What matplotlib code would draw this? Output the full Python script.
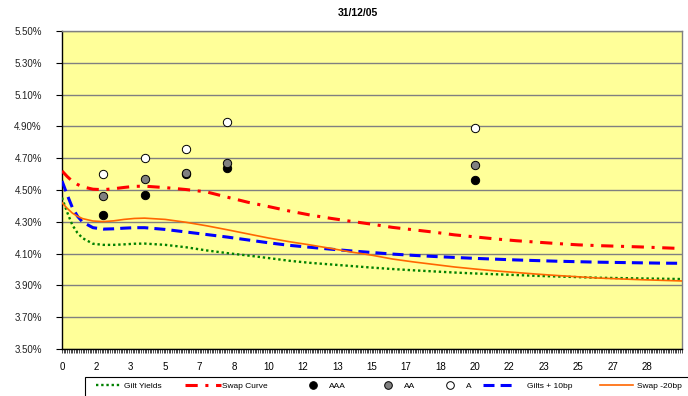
import numpy as np
import matplotlib.pyplot as plt
from matplotlib.lines import Line2D
from matplotlib.patches import Rectangle

plt.rcParams['font.family'] = ['Liberation Sans', 'DejaVu Sans']

# ----------------------------------------------------------------------------
# DATA (yields in %, maturities in years)
# ----------------------------------------------------------------------------
maturity_yrs = [0, 0.25, 0.5, 0.75, 1, 1.5, 2, 2.5, 3, 3.5, 4, 5, 6, 7, 8, 9, 10,
                11, 12, 13, 14, 15, 16, 17, 18, 19, 20, 21, 22, 23, 24, 25, 26,
                27, 28, 29, 30]

gilt_yields = [4.452, 4.36, 4.28, 4.23, 4.197, 4.162, 4.155, 4.155, 4.158, 4.162,
               4.163, 4.155, 4.14, 4.12, 4.103, 4.088, 4.072, 4.055, 4.042, 4.032,
               4.022, 4.012, 4.003, 3.995, 3.988, 3.981, 3.975, 3.970, 3.965, 3.960,
               3.956, 3.952, 3.948, 3.946, 3.944, 3.942, 3.940]

swap_curve = [4.62, 4.585, 4.555, 4.535, 4.52, 4.505, 4.502, 4.508, 4.516, 4.523,
              4.524, 4.515, 4.503, 4.488, 4.455, 4.423, 4.396, 4.368, 4.343, 4.322,
              4.303, 4.285, 4.265, 4.25, 4.235, 4.218, 4.205, 4.192, 4.181, 4.172,
              4.163, 4.155, 4.150, 4.146, 4.142, 4.137, 4.132]

gilts_plus_10 = [4.557, 4.47, 4.39, 4.335, 4.298, 4.263, 4.254, 4.256, 4.26, 4.263,
                 4.263, 4.252, 4.236, 4.22, 4.204, 4.186, 4.168, 4.152, 4.14, 4.128,
                 4.117, 4.107, 4.097, 4.089, 4.082, 4.076, 4.070, 4.065, 4.060, 4.056,
                 4.052, 4.049, 4.046, 4.044, 4.042, 4.040, 4.039]

swap_minus_20 = [4.42, 4.385, 4.355, 4.335, 4.32, 4.305, 4.301, 4.306, 4.315, 4.321,
                 4.323, 4.315, 4.297, 4.275, 4.25, 4.224, 4.198, 4.175, 4.155, 4.133,
                 4.11, 4.09, 4.066, 4.048, 4.032, 4.016, 4.003, 3.991, 3.981, 3.971,
                 3.962, 3.954, 3.946, 3.941, 3.936, 3.932, 3.928]

bond_terms = [2, 4, 6, 8, 20]
aaa_yields = [4.34, 4.47, 4.60, 4.64, 4.56]
aa_yields = [4.46, 4.57, 4.61, 4.67, 4.66]
a_yields = [4.60, 4.70, 4.76, 4.93, 4.89]

# category axis runs monthly; a label every 20 months
n_months = 360
label_months = list(range(0, 341, 20))
label_text = ['0', '2', '3', '5', '7', '8', '10', '12', '13', '15', '17', '18',
              '20', '22', '23', '25', '27', '28']
y_ticks = [3.5, 3.7, 3.9, 4.1, 4.3, 4.5, 4.7, 4.9, 5.1, 5.3, 5.5]

# ----------------------------------------------------------------------------
# FIGURE
# ----------------------------------------------------------------------------
W, H = 688, 396
fig = plt.figure(figsize=(W / 100, H / 100), dpi=100)
ax = fig.add_axes([62 / W, 1 - 349 / H, (681.5 - 62) / W, (349 - 31) / H])
ax.set_facecolor('#FFFF99')

x_m = np.array(maturity_yrs) * 12
b_m = np.array(bond_terms) * 12

gilt_style = dict(color='#008000', lw=1.7, ls=(0, (1, 1.2)), dash_capstyle='butt')
swap_style = dict(color='#FF0000', lw=2.2, ls=(0, (4, 2.5, 1, 2.5)), dash_capstyle='butt')
blue_style = dict(color='#0000FF', lw=2.2, ls=(0, (3.6, 2)), dash_capstyle='butt')
orange_style = dict(color='#FF6600', lw=1.2, ls='-')

ax.plot(x_m, gilt_yields, **gilt_style, zorder=3)
ax.plot(x_m, swap_curve, **swap_style, zorder=3)
ax.plot(x_m, gilts_plus_10, **blue_style, zorder=3)
ax.plot(x_m, swap_minus_20, **orange_style, zorder=3)

mk = dict(marker='o', ms=6, mec='black', mew=0.7, ls='none', zorder=4)
ax.plot(b_m, aaa_yields, mfc='black', **mk)
ax.plot(b_m, aa_yields, mfc='#808080', **mk)
ax.plot(b_m, a_yields, mfc='white', **mk)

ax.set_xlim(0, n_months)
ax.set_ylim(3.5, 5.5)
ax.set_xticks(label_months)
ax.set_xticklabels(label_text)
ax.set_xticks(np.arange(0, n_months + 1), minor=True)
ax.set_yticks(y_ticks)
ax.set_yticklabels([f'{v:.2f}%' for v in y_ticks])

ax.tick_params(axis='x', which='both', direction='out', length=3, width=0.5,
               labelsize=7, pad=6, colors='black')
ax.tick_params(axis='y', direction='out', length=4, width=0.8,
               labelsize=7, pad=10.5, colors='black', labelcolor='#222222')
ax.yaxis.grid(True, color='#808080', lw=1)
ax.set_axisbelow(True)

for side in ['left', 'bottom']:
    ax.spines[side].set_color('black')
    ax.spines[side].set_linewidth(1)
for side in ['top', 'right']:
    ax.spines[side].set_color('#808080')
    ax.spines[side].set_linewidth(1)

fig.text(358 / W, 1 - 13 / H, '31/12/05', ha='center', va='center',
         fontsize=7.5, fontweight='bold')

# ----------------------------------------------------------------------------
# LEGEND (box along the bottom, one entry at a time)
# ----------------------------------------------------------------------------
fig.add_artist(Rectangle((85 / W, -0.05), 1.0, (H - 377) / H + 0.05,
                         transform=fig.transFigure, fill=False,
                         edgecolor='black', lw=0.8))

mk_leg = dict(marker='o', ms=5.5, mec='black', mew=0.7, ls='none')
entries = [
    (Line2D([], [], **gilt_style), 'Gilt Yields', 96, 3.0, 0.4),
    (Line2D([], [], **swap_style), 'Swap Curve', 185, 4.3, 0.2),
    (Line2D([], [], mfc='black', **mk_leg), 'AAA', 304, 2.2, 0.8),
    (Line2D([], [], mfc='#808080', **mk_leg), 'AA', 379, 2.2, 0.8),
    (Line2D([], [], mfc='white', **mk_leg), 'A', 441, 2.2, 0.8),
    (Line2D([], [], **blue_style), 'Gilts + 10bp', 483, 4.0, 1.3),
    (Line2D([], [], **orange_style), 'Swap -20bp', 600, 4.0, 0.4),
]
for handle, label, x_px, hlen, tpad in entries:
    fig.legend([handle], [label], loc='center left',
               bbox_to_anchor=(x_px / W, 1 - 386 / H),
               frameon=False, fontsize=6, borderpad=0, borderaxespad=0,
               handlelength=hlen, handletextpad=tpad)

fig.savefig('out.png', dpi=100)
